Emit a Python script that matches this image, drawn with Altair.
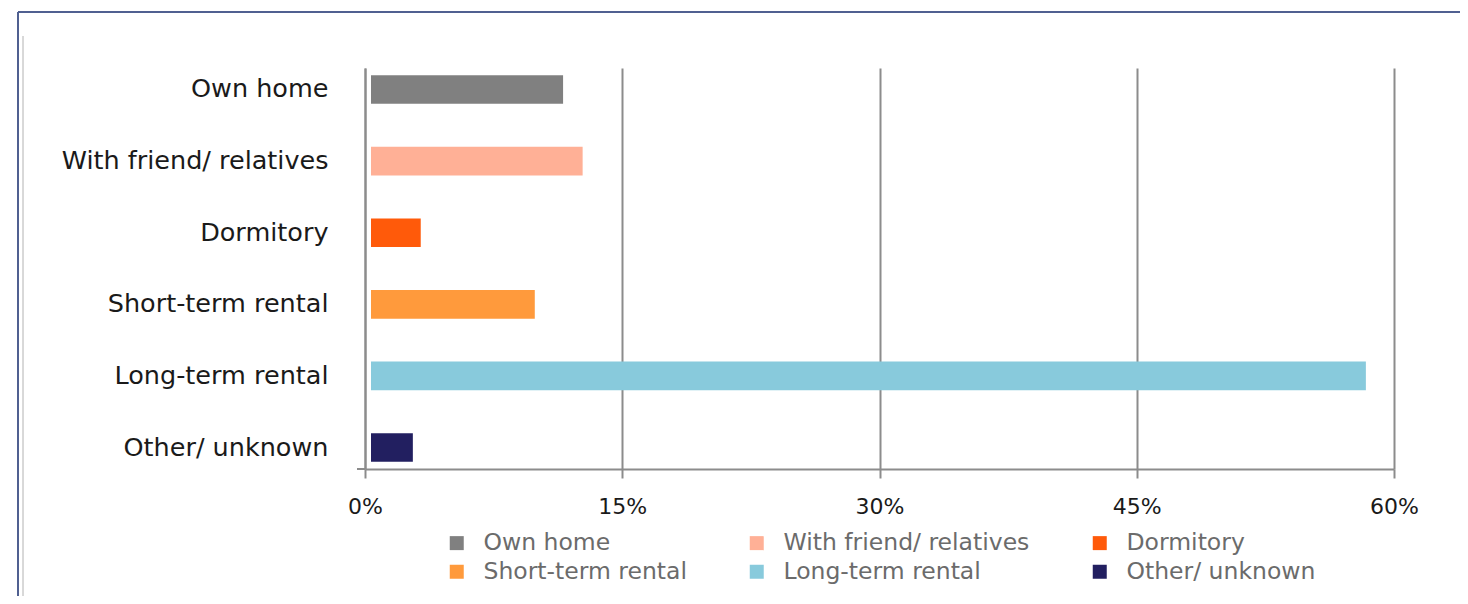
import altair as alt
import pandas as pd

categories = ["Own home", "With friend/ relatives", "Dormitory",
              "Short-term rental", "Long-term rental", "Other/ unknown"]
values = [11.55, 12.69, 3.25, 9.9, 58.36, 2.79]
colors = ["#808080", "#FFB096", "#FF5A0A", "#FF9A3C", "#88CADC", "#221F60"]
x_ticks = [0, 15, 30, 45, 60]

df = pd.DataFrame({"category": categories, "value": values})

W, H = 1029, 401
FONT = "DejaVu Sans"
AXIS_GRAY = "#8c8c8c"

bars = alt.Chart(df).mark_bar(x2Offset=6).encode(
    x=alt.X("value:Q", stack=None,
            scale=alt.Scale(domain=[0, 60], nice=False),
            axis=alt.Axis(values=x_ticks, labelExpr="datum.value + '%'",
                          title=None, grid=True, gridColor=AXIS_GRAY, gridWidth=2,
                          domainColor=AXIS_GRAY, domainWidth=2,
                          tickColor=AXIS_GRAY, tickWidth=2, tickSize=9,
                          labelFont=FONT, labelFontSize=22, labelColor="#1a1a1a",
                          labelFlush=False, labelPadding=18)),
    x2=alt.X2(datum=0),
    y=alt.Y("category:N", sort=categories,
            scale=alt.Scale(paddingInner=0.6, paddingOuter=0.1),
            axis=alt.Axis(title=None, ticks=False, domainColor=AXIS_GRAY, domainWidth=2,
                          labelFont=FONT, labelFontSize=25.5, labelColor="#1a1a1a",
                          labelPadding=37, labelLimit=400)),
    color=alt.Color("category:N", sort=categories,
                    scale=alt.Scale(domain=categories, range=colors),
                    legend=alt.Legend(title=None, orient="none", legendX=80, legendY=463,
                                      direction="horizontal", columns=3,
                                      symbolType="square", symbolSize=196,
                                      symbolStrokeWidth=0, labelOffset=15,
                                      columnPadding=58, rowPadding=4,
                                      labelFont=FONT, labelFontSize=23.5,
                                      labelColor="#6b6b6b", padding=0,
                                      labelLimit=400)),
)

# small extension of the x baseline to the left of the y axis
ext = alt.Chart(df).mark_rule(color=AXIS_GRAY, strokeWidth=2).encode(
    x=alt.value(-8), x2=alt.value(0), y=alt.value(H))

# outer frame of the screenshot
frame_top = alt.Chart(df).mark_rule(color="#4f5f8f", strokeWidth=1).encode(
    x=alt.value(-347), x2=alt.value(1103), y=alt.value(-56))
frame_left = alt.Chart(df).mark_rule(color="#4f5f8f", strokeWidth=1).encode(
    x=alt.value(-347), y=alt.value(-56), y2=alt.value(536))
frame_inner = alt.Chart(df).mark_rule(color="#d8d8d8", strokeWidth=1).encode(
    x=alt.value(-342), y=alt.value(-32), y2=alt.value(536))

chart = alt.layer(frame_top, frame_left, frame_inner, bars, ext).properties(
    width=W, height=H,
    autosize=alt.AutoSizeParams(type="none"),
    padding={"left": 357, "top": 60, "right": 66, "bottom": 127},
    background="white",
).configure_view(strokeWidth=0)

chart.save("out.html", embed_options={"renderer": "svg", "actions": False})
